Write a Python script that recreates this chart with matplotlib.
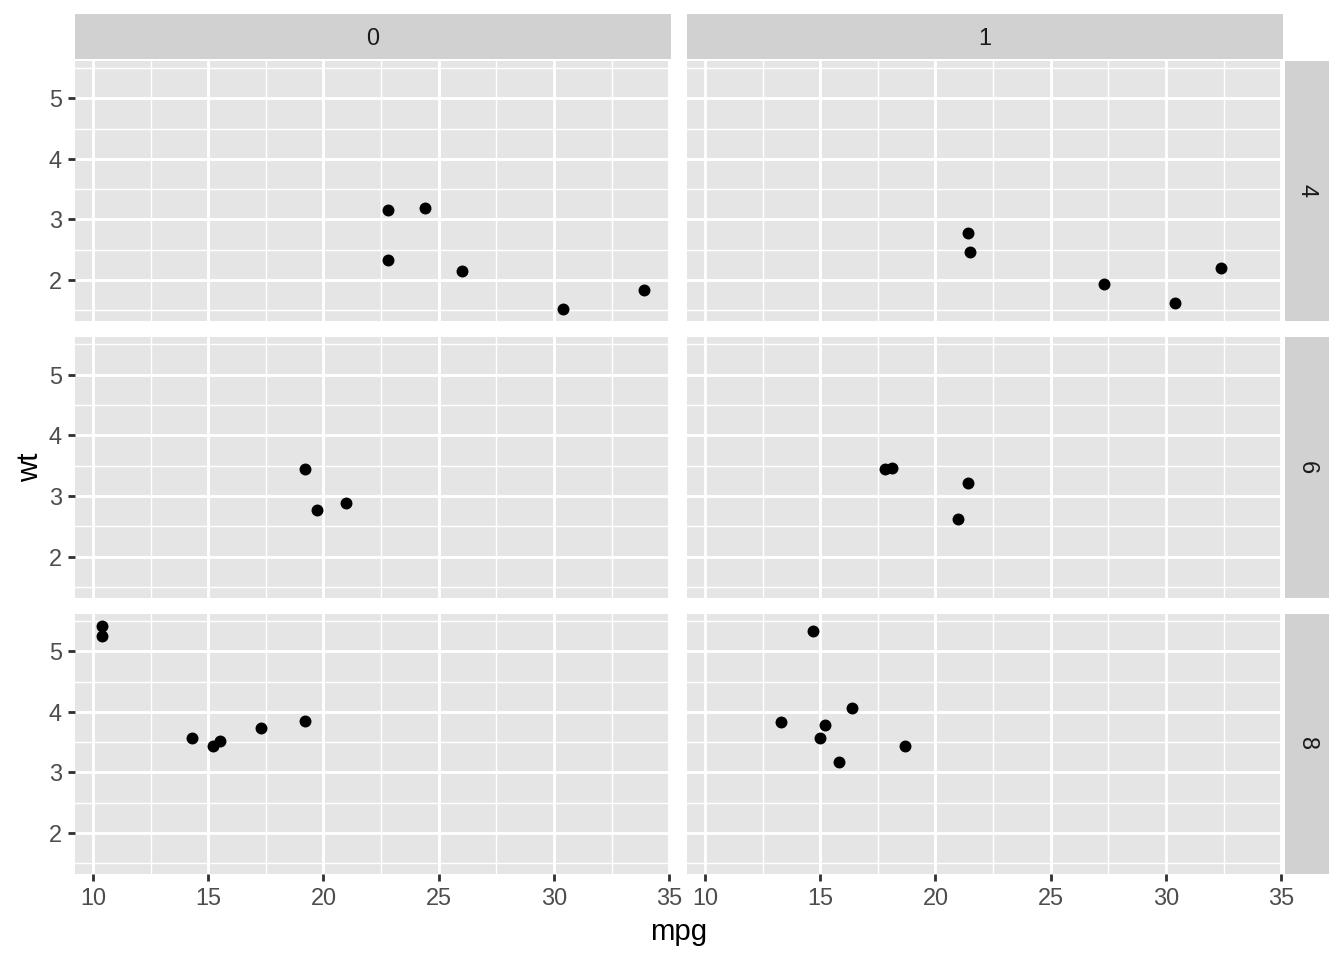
import matplotlib.pyplot as plt
from matplotlib.ticker import MultipleLocator

plt.rcParams['font.family'] = ['Liberation Sans', 'DejaVu Sans']

col_levels = ['0', '1']
row_levels = ['4', '6', '8']

# (row, col) -> mpg, wt
mpg_4_0 = [22.8, 24.4, 22.8, 26.0, 30.4, 33.9]
wt_4_0 = [3.150, 3.190, 2.320, 2.140, 1.513, 1.835]
mpg_4_1 = [21.4, 21.5, 27.3, 30.4, 32.4]
wt_4_1 = [2.780, 2.465, 1.935, 1.615, 2.200]
mpg_6_0 = [19.2, 19.7, 21.0]
wt_6_0 = [3.440, 2.770, 2.875]
mpg_6_1 = [17.8, 18.1, 21.4, 21.0]
wt_6_1 = [3.440, 3.460, 3.215, 2.620]
mpg_8_0 = [10.4, 10.4, 14.3, 15.2, 15.5, 17.3, 19.2]
wt_8_0 = [5.424, 5.250, 3.570, 3.435, 3.520, 3.730, 3.845]
mpg_8_1 = [14.7, 13.3, 15.0, 15.2, 16.4, 15.8, 18.7]
wt_8_1 = [5.345, 3.840, 3.570, 3.780, 4.070, 3.170, 3.440]

panels = {
    ('4', '0'): (mpg_4_0, wt_4_0), ('4', '1'): (mpg_4_1, wt_4_1),
    ('6', '0'): (mpg_6_0, wt_6_0), ('6', '1'): (mpg_6_1, wt_6_1),
    ('8', '0'): (mpg_8_0, wt_8_0), ('8', '1'): (mpg_8_1, wt_8_1),
}

W, H = 1344, 960
fig = plt.figure(figsize=(7, 5), dpi=192)

def px_axes(x0, y0, x1, y1):
    return fig.add_axes([x0 / W, 1 - y1 / H, (x1 - x0) / W, (y1 - y0) / H])

col_x = [(75, 671), (687, 1283)]
row_y = [(61, 321), (337, 598), (614, 874)]
strip_top = (14, 59)
strip_right = (1285, 1329)

xlim = (9.225, 35.075)
ylim = (1.317, 5.620)
strip_bg = '#D1D1D1'
panel_bg = '#E5E5E5'

for ci, c in enumerate(col_levels):
    x0, x1 = col_x[ci]
    sa = px_axes(x0, strip_top[0], x1, strip_top[1])
    sa.set_facecolor(strip_bg)
    sa.set_xticks([]); sa.set_yticks([])
    for s in sa.spines.values():
        s.set_visible(False)
    sa.text(0.5, 0.45, c, ha='center', va='center', fontsize=8.8, color='#1A1A1A', transform=sa.transAxes)

for ri, r in enumerate(row_levels):
    y0, y1 = row_y[ri]
    sa = px_axes(strip_right[0], y0, strip_right[1], y1)
    sa.set_facecolor(strip_bg)
    sa.set_xticks([]); sa.set_yticks([])
    for s in sa.spines.values():
        s.set_visible(False)
    sa.text(0.5, 0.5, r, ha='center', va='center', rotation=-90, fontsize=8.8,
            color='#1A1A1A', transform=sa.transAxes)

    for ci, c in enumerate(col_levels):
        x0, x1 = col_x[ci]
        ax = px_axes(x0, y0, x1, y1)
        ax.set_facecolor(panel_bg)
        ax.set_xlim(*xlim)
        ax.set_ylim(*ylim)
        ax.xaxis.set_major_locator(MultipleLocator(5))
        ax.xaxis.set_minor_locator(MultipleLocator(2.5))
        ax.yaxis.set_major_locator(MultipleLocator(1))
        ax.yaxis.set_minor_locator(MultipleLocator(0.5))
        ax.grid(which='major', color='white', linewidth=1.07)
        ax.grid(which='minor', color='white', linewidth=0.53)
        ax.set_axisbelow(True)
        for s in ax.spines.values():
            s.set_visible(False)
        ax.tick_params(which='minor', length=0)
        ax.tick_params(which='major', length=2.75, width=1.07, color='#333333',
                       labelsize=8.8, labelcolor='#4D4D4D', pad=2.2)
        if ci != 0:
            ax.tick_params(axis='y', which='major', length=0, labelleft=False)
        if ri != len(row_levels) - 1:
            ax.tick_params(axis='x', which='major', length=0, labelbottom=False)
        xs, ys = panels[(r, c)]
        ax.scatter(xs, ys, s=20, color='black', linewidths=0, zorder=3)

fig.text(679 / W, 1 - 932 / H, 'mpg', ha='center', va='center', fontsize=11)
fig.text(30 / W, 1 - 467 / H, 'wt', ha='center', va='center', fontsize=11, rotation=90)

fig.savefig('out.png', dpi=192, facecolor='white')
